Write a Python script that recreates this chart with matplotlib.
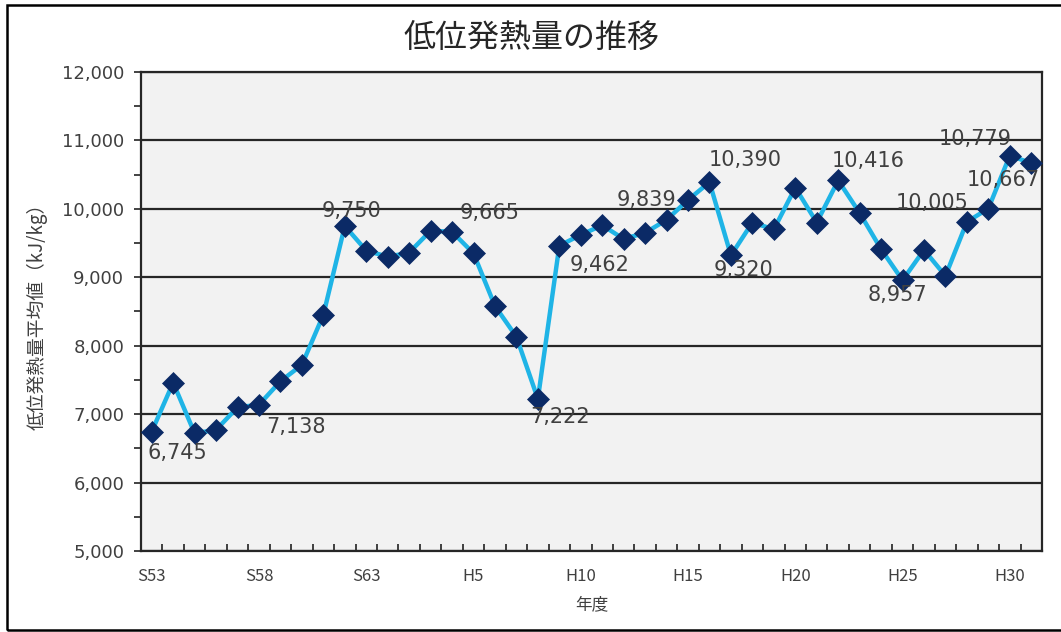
import numpy as np
import matplotlib
matplotlib.use("Agg")
from matplotlib import pyplot as plt
from matplotlib.patches import Rectangle
from matplotlib.ticker import FuncFormatter, MultipleLocator, FixedLocator

plt.rcParams['font.family'] = ['Noto Sans CJK JP', 'DejaVu Sans']

# 年度 S53 (1978) .. H31 (2019)
years = ["S%d" % y for y in range(53, 64)] + ["H%d" % y for y in range(1, 32)]
heat = [6745, 7460, 6720, 6770, 7100, 7138, 7480, 7720, 8450, 9750,
        9390, 9300, 9360, 9680, 9665, 9350, 8580, 8130, 7222, 9462,
        9620, 9760, 9560, 9650, 9839, 10130, 10390, 9320, 9800, 9700,
        10310, 9800, 10416, 9940, 9410, 8957, 9400, 9020, 9810, 10005,
        10779, 10667]
tick_years = ["S53", "S58", "S63", "H5", "H10", "H15", "H20", "H25", "H30"]

# labelled points and where their label sits (pixels from the marker)
label_idx = [0, 5, 9, 14, 18, 19, 24, 26, 27, 32, 35, 39, 40, 41]
label_off = [(26, -21), (37, -22), (7, 15), (38, 19), (22, -18), (40, -19),
             (-20, 20), (36, 22), (13, -15), (30, 19), (-5, -15), (-56, 6),
             (-35, 17), (-28, -17)]

fig = plt.figure(figsize=(10.61, 6.32), dpi=100)
ax = fig.add_axes([141 / 1061, 81 / 632, 901 / 1061, 479 / 632])
ax.set_facecolor("#F2F2F2")

x = np.arange(len(years))
ax.plot(x, heat, color="#1FB4E6", lw=3.2, zorder=3,
        marker="D", markersize=11, markerfacecolor="#0B2A66",
        markeredgecolor="#0B2A66", markeredgewidth=0.5)

for i, (dx, dy) in zip(label_idx, label_off):
    ax.annotate(f"{heat[i]:,}", (x[i], heat[i]), xytext=(dx, dy),
                textcoords="offset pixels", ha="center", va="center",
                fontsize=15, family="DejaVu Sans", color="#404040",
                zorder=4, annotation_clip=False, clip_on=True)

ax.set_xlim(-0.5, len(years) - 0.5)
ax.set_ylim(5000, 12000)

ax.yaxis.set_major_locator(MultipleLocator(1000))
ax.yaxis.set_minor_locator(MultipleLocator(500))
ax.yaxis.set_major_formatter(FuncFormatter(lambda v, p: f"{int(v):,}"))
ax.tick_params(axis="y", which="both", direction="out", length=5, width=1.2,
               color="#222222", labelsize=13, labelcolor="#404040", pad=7)
ax.tick_params(axis="y", which="major", labelfontfamily="DejaVu Sans")

# category labels every 5 years, tick marks on category boundaries
ax.xaxis.set_major_locator(FixedLocator([years.index(t) for t in tick_years]))
ax.set_xticklabels(tick_years)
ax.xaxis.set_minor_locator(FixedLocator(np.arange(-0.5, len(years), 1.0)))
ax.tick_params(axis="x", which="major", length=0, labelsize=12,
               labelcolor="#404040", pad=12)
ax.tick_params(axis="x", which="minor", direction="in", length=5, width=1.2,
               color="#222222")

ax.grid(axis="y", which="major", color="#262626", lw=1.6, zorder=1)
ax.set_axisbelow(True)
for s in ax.spines.values():
    s.set_color("#262626")
    s.set_linewidth(1.6)

ax.set_ylabel("低位発熱量平均値（kJ/kg）", fontsize=13.5, color="#404040",
              labelpad=10)
ax.set_xlabel("年度", fontsize=12, color="#404040", labelpad=8)
fig.text(531 / 1061, 1 - 38 / 632, "低位発熱量の推移", ha="center",
         va="center", fontsize=23, color="#262626")

fig.patches.append(Rectangle((7 / 1061, 2 / 632), 1.2, 625 / 632,
                             transform=fig.transFigure, fill=False,
                             edgecolor="black", lw=1.8))

plt.savefig("out.png", dpi=100)
